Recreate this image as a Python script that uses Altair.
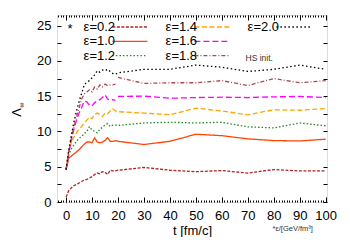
import altair as alt
import pandas as pd

FONT = "Liberation Sans"

# ---------------- data ----------------
t_early = list(range(0, 20))
t_late = [20, 30, 40, 50, 60, 70, 80, 90, 100]

labels = ["ε=0.2", "ε=1.0", "ε=1.2", "ε=1.4", "ε=1.6", "ε=1.8", "ε=2.0"]
colors = ["#b22222", "#ff4500", "#228b22", "#ffa500", "#ff00ff", "#b04848", "#000000"]
dashes = [[3, 1.5], [1, 0], [1.5, 2], [5, 2.5], [6, 3], [4, 2, 1, 2], [1.5, 2.5]]

e02_early = [0.7, 1.6, 2.0, 2.3, 2.5, 2.7, 2.9, 3.1, 3.2, 3.4, 3.6, 3.9, 4.1, 4.0, 4.3, 4.2, 3.9, 4.5, 4.4, 4.4]
e02_late = [4.5, 4.9, 4.5, 4.3, 4.45, 4.1, 4.6, 4.4, 4.4]
e10_early = [4.6, 6.2, 6.5, 6.8, 7.1, 7.4, 7.8, 8.2, 8.5, 8.5, 8.4, 9.1, 8.5, 8.4, 8.5, 8.7, 9.1, 8.6, 8.6, 8.7]
e10_late = [8.6, 8.15, 8.6, 9.6, 9.4, 8.95, 8.7, 8.65, 8.9]
e12_early = [4.6, 6.6, 7.5, 8.1, 8.6, 9.0, 9.3, 9.7, 10.0, 10.7, 10.2, 10.0, 9.8, 10.3, 10.6, 10.9, 11.1, 10.7, 10.9, 10.9]
e12_late = [10.85, 11.2, 11.3, 11.2, 11.3, 10.65, 10.5, 11.2, 10.8]
e14_early = [4.6, 7.3, 8.4, 9.2, 9.8, 10.3, 10.7, 11.2, 11.6, 12.0, 11.8, 12.4, 12.6, 12.4, 12.1, 12.6, 12.5, 12.9, 13.2, 12.9]
e14_late = [12.8, 12.6, 12.36, 13.3, 12.9, 12.36, 13.07, 13.0, 13.25]
e16_early = [4.6, 6.9, 8.8, 10.3, 11.6, 12.6, 13.4, 14.3, 14.2, 13.7, 13.6, 14.1, 14.3, 14.5, 14.8, 15.2, 14.6, 14.4, 14.5, 14.4]
e16_late = [14.96, 15.0, 14.7, 14.8, 14.85, 14.8, 14.9, 14.96, 14.8]
e18_early = [4.6, 7.1, 9.0, 10.6, 12.0, 13.3, 14.6, 15.3, 15.6, 15.9, 15.6, 16.3, 16.0, 16.6, 16.3, 16.7, 16.5, 16.6, 16.6, 16.7]
e18_late = [17.65, 16.8, 16.9, 16.9, 17.2, 16.5, 17.5, 16.9, 17.2]
e20_early = [4.6, 7.2, 9.4, 11.3, 12.9, 14.2, 15.4, 16.6, 17.0, 17.2, 17.6, 18.0, 18.6, 18.4, 18.7, 18.6, 18.8, 18.5, 18.2, 18.1]
e20_late = [18.3, 18.8, 18.8, 19.4, 19.1, 18.5, 18.8, 19.4, 18.8]

early = [e02_early, e10_early, e12_early, e14_early, e16_early, e18_early, e20_early]
late = [e02_late, e10_late, e12_late, e14_late, e16_late, e18_late, e20_late]
# series whose late part is a separate, unconnected segment
separate_late = ["ε=1.6", "ε=1.8"]

x_ticks = list(range(0, 101, 10))
x_minor = list(range(-3, 101))
y_ticks = [0, 5, 10, 15, 20, 25]
y_minor = [i * 2.5 for i in range(0, 11)]

hs_label = "HS init."
foot_label = "*ε/[GeV/fm³]"

# ---------------- table ----------------
rows = []
for lab, ea, la in zip(labels, early, late):
    seg_late = "b" if lab in separate_late else "a"
    for t, v in zip(t_early, ea):
        rows.append({"t": t, "lam": v, "eps": lab, "seg": "a"})
    for t, v in zip(t_late, la):
        rows.append({"t": t, "lam": v, "eps": lab, "seg": seg_late})
df = pd.DataFrame(rows)

xscale = alt.Scale(domain=[-3.5, 100.5], nice=False, zero=False)
yscale = alt.Scale(domain=[0, 26.5], nice=False, zero=False)


def inner_axis(orient, values, size, offset):
    return alt.Axis(orient=orient, values=values, tickSize=size, labels=False,
                    domain=False, grid=False, title=None, offset=offset,
                    tickColor="black", tickWidth=1)


ax_x_main = alt.Axis(orient="bottom", values=x_ticks, ticks=False, domain=False, grid=False,
                     labelFont=FONT, labelFontSize=13, labelColor="black", labelPadding=7,
                     title="t [fm/c]", titleFont=FONT, titleFontSize=13, titleFontWeight="normal",
                     titleColor="black", titleBaseline="alphabetic", titleY=32)
ax_y_main = alt.Axis(orient="left", values=y_ticks, ticks=False, domain=False, grid=False,
                     labelFont=FONT, labelFontSize=13, labelColor="black", labelPadding=6,
                     title="Λ", titleFont=FONT, titleFontSize=13, titleFontWeight="normal",
                     titleColor="black", titleX=-41, titleY=97, titleAngle=270,
                     titleBaseline="middle", titleAlign="center")

H, W = 187, 270
LEG_Y = 5.5


def line_layer(idx, x_axis, y_axis, label_x, symbol_x):
    labs = [labels[i] for i in idx]
    sub = df[df.eps.isin(labs)]
    leg_sym = alt.Legend(title=None, orient="none", legendX=symbol_x, legendY=LEG_Y,
                         direction="vertical", symbolType="stroke", symbolSize=1225,
                         symbolStrokeWidth=1.3, clipHeight=13, rowPadding={"expr": "0.3"},
                         labelExpr="''", labelFontSize=13, labelFont=FONT, padding=0)
    leg_lab = alt.Legend(title=None, orient="none", legendX=label_x, legendY=LEG_Y,
                         direction="vertical", symbolType="stroke", symbolSize=1,
                         symbolOpacity=0, symbolStrokeWidth=0, clipHeight=13,
                         rowPadding={"expr": "0.3"},
                         labelOffset=0, labelFontSize=13, labelFont=FONT,
                         labelColor="black", padding=0)
    return alt.Chart(sub).mark_line(strokeWidth=1.3, clip=True).encode(
        x=alt.X("t:Q", scale=xscale, axis=x_axis),
        y=alt.Y("lam:Q", scale=yscale, axis=y_axis),
        color=alt.Color("eps:N", scale=alt.Scale(domain=labs, range=[colors[i] for i in idx]), legend=leg_sym),
        strokeDash=alt.StrokeDash("eps:N", scale=alt.Scale(domain=labs, range=[dashes[i] for i in idx]), legend=leg_sym),
        opacity=alt.Opacity("eps:N", scale=alt.Scale(range=[1.0] * len(idx)), legend=leg_lab),
        detail="seg:N",
    )


col1 = line_layer([0, 1, 2], ax_x_main, ax_y_main, 13.6, 54.4)
col2 = line_layer([3, 4, 5], inner_axis("top", x_ticks, 5, -H), inner_axis("right", y_minor, 4, -W), 95.6, 136.4)
col3 = line_layer([6], inner_axis("top", x_minor, 2, -H), inner_axis("left", y_minor, 4, -W), 177.6, 218.4)

notes = pd.DataFrame({"t": [74.4], "lam": [20.45], "txt": [hs_label]})
hs = alt.Chart(notes).mark_text(font=FONT, fontSize=8.5, color="#333333").encode(
    x=alt.X("t:Q", scale=xscale, axis=inner_axis("bottom", x_ticks, 5, -H)),
    y=alt.Y("lam:Q", scale=yscale, axis=None),
    text="txt:N",
)

foot = pd.DataFrame({"t": [87.3], "lam": [-3.83], "txt": [foot_label]})
ft = alt.Chart(foot).mark_text(font=FONT, fontSize=7.5, color="#333333").encode(
    x=alt.X("t:Q", scale=xscale, axis=inner_axis("bottom", x_minor, 2, -H)),
    y=alt.Y("lam:Q", scale=yscale, axis=None),
    text="txt:N",
)

star = pd.DataFrame({"t": [1.5], "lam": [24.45], "txt": ["*"]})
st = alt.Chart(star).mark_text(font=FONT, fontSize=13, color="black", baseline="middle").encode(
    x=alt.X("t:Q", scale=xscale, axis=None),
    y=alt.Y("lam:Q", scale=yscale, axis=None),
    text="txt:N",
)

# subscript of the y title (Λ∞), rotated like the title
sub_inf = pd.DataFrame({"t": [-17.0], "lam": [13.75], "txt": ["∞"]})
inf = alt.Chart(sub_inf).mark_text(font=FONT, fontSize=7, color="black", angle=270,
                                   baseline="middle").encode(
    x=alt.X("t:Q", scale=xscale, axis=None),
    y=alt.Y("lam:Q", scale=yscale, axis=None),
    text="txt:N",
)

chart = alt.layer(col1, col2, col3, hs, ft, st, inf).resolve_scale(
    color="independent", strokeDash="independent", opacity="independent"
).resolve_axis(x="independent", y="independent").properties(
    width=W, height=H,
    autosize=alt.AutoSizeParams(type="none"),
    padding={"left": 49, "top": 7, "right": 15, "bottom": 35},
).configure_view(stroke="black", strokeWidth=1).configure(background="white")

chart.save("out.html", embed_options={"renderer": "svg", "actions": False})
